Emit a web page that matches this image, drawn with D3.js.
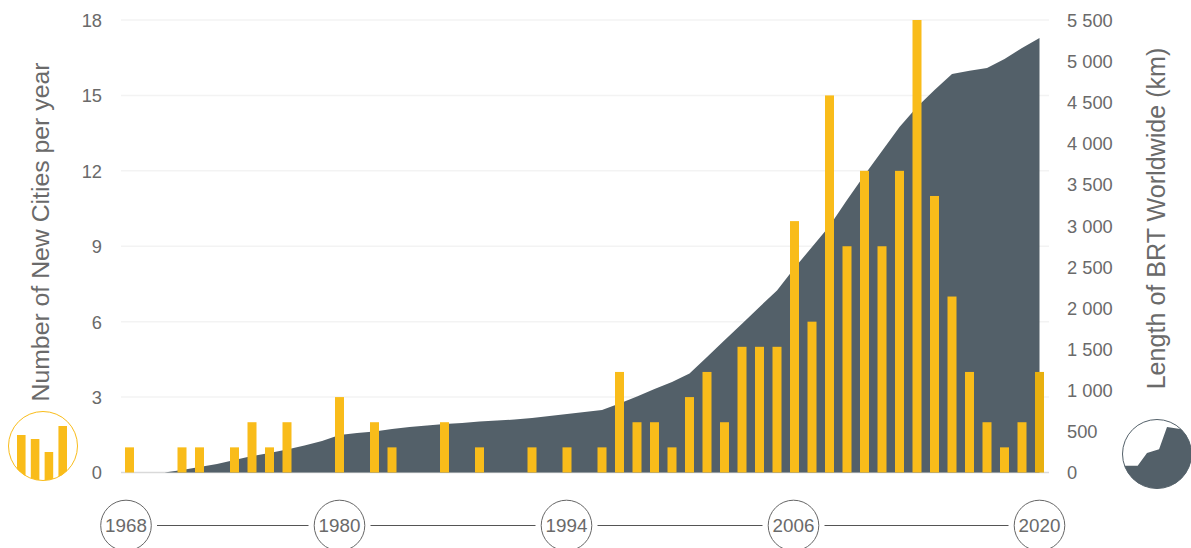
<!DOCTYPE html>
<html><head><meta charset="utf-8">
<script src="https://cdn.jsdelivr.net/npm/d3@7"></script>
<style>html,body{margin:0;padding:0;background:#fff}svg{display:block}
text{font-family:"Liberation Sans",sans-serif;fill:#6a6a6a}</style>
</head><body><div id="c"></div>
<script>
const years = d3.range(1968, 2021);
const newCities = [1,0,0,1,1,0,1,2,1,2,0,0,3,0,2,1,0,0,2,0,1,0,0,1,0,1,0,1,4,2,2,1,3,4,2,5,5,5,10,6,15,9,12,9,12,18,11,7,4,2,1,2,4];
const brtLength = [0,0,0,30,67,103,152,200,237,280,328,383,456,480,498,529,553,571,590,602,620,632,644,662,687,711,735,760,839,924,1015,1100,1203,1404,1607,1809,2012,2212,2486,2741,2996,3312,3616,3908,4200,4443,4649,4845,4882,4917,5026,5160,5281];
const leftTicks = [0,3,6,9,12,15,18];
const rightTicks = [0,500,1000,1500,2000,2500,3000,3500,4000,4500,5000,5500];
const timeline = [1968,1980,1994,2006,2020];
const timelinePos = [126,339.5,566.5,793.5,1039.5];
const leftTitle = "Number of New Cities per year";
const rightTitle = "Length of BRT Worldwide (km)";
const iconBars = [46,42,29,55];
const iconArea = [[0,0.67],[0.22,0.67],[0.355,0.485],[0.53,0.43],[0.645,0.11],[0.86,0.14],[1,0.25]];

const W=1191,H=548,plotTop=20,base=472.5;
const svg=d3.select("#c").append("svg").attr("width",W).attr("height",H);
const x=d3.scalePoint().domain(years).range([129.5,1039.5]);
const yL=d3.scaleLinear().domain([0,18]).range([base,plotTop]);
const yR=d3.scaleLinear().domain([0,5500]).range([base,plotTop]);
const barW=9;

svg.append("g").selectAll("line").data(leftTicks).join("line")
  .attr("x1",121).attr("x2",1049).attr("y1",d=>yL(d)).attr("y2",d=>yL(d))
  .attr("stroke",d=>d===0?"#d9d9d9":"#f3f3f3").attr("stroke-width",1.5);

const area=d3.area().x((d,i)=>x(years[i])).y0(base).y1(d=>yR(d));
svg.append("path").datum(brtLength).attr("d",area).attr("fill","#536069");

svg.append("g").selectAll("rect").data(newCities.map((v,i)=>({v,y:years[i]})).filter(d=>d.v>0)).join("rect")
  .attr("x",d=>x(d.y)-barW/2).attr("width",barW)
  .attr("y",d=>yL(d.v)).attr("height",d=>base-yL(d.v))
  .attr("fill",d=>d.y===2020?"#e8b00f":"#f9bc1a");

const axL=d3.axisLeft(yL).tickValues(leftTicks).tickSize(0).tickPadding(0);
const gL=svg.append("g").attr("transform","translate(102,0)").call(axL);
gL.select(".domain").remove();
gL.selectAll("text").attr("font-size",18.3).attr("dy","0.35em");

const fmt=d=>d>=1000?d3.format(",")(d).replace(","," "):String(d);
const axR=d3.axisRight(yR).tickValues(rightTicks).tickFormat(fmt).tickSize(0).tickPadding(0);
const gR=svg.append("g").attr("transform","translate(1067,0)").call(axR);
gR.select(".domain").remove();
gR.selectAll("text").attr("font-size",18.3).attr("dy","0.35em");

svg.append("text").attr("transform","translate(49,232) rotate(-90)").attr("text-anchor","middle").attr("font-size",24.8).text(leftTitle);
svg.append("text").attr("transform","translate(1165,218.5) rotate(-90)").attr("text-anchor","middle").attr("font-size",25.1).text(rightTitle);

const tl=svg.append("g");
const tlX=d3.scaleOrdinal().domain(timeline).range(timelinePos);
d3.pairs(timeline).forEach(([a,b])=>{
  tl.append("line").attr("x1",tlX(a)+31).attr("x2",tlX(b)-31).attr("y1",525.5).attr("y2",525.5).attr("stroke","#555").attr("stroke-width",1);
});
const tg=tl.selectAll("g").data(timeline).join("g").attr("transform",d=>`translate(${tlX(d)},525.5)`);
tg.append("circle").attr("r",25.3).attr("fill","#fff").attr("stroke","#666").attr("stroke-width",1);
tg.append("text").attr("text-anchor","middle").attr("dy","0.36em").attr("font-size",18.8).text(d=>d);

const ib=svg.append("g").attr("transform","translate(43,446)");
svg.append("clipPath").attr("id","ic").append("circle").attr("r",34.5);
const ibx=d3.scaleBand().domain(d3.range(iconBars.length)).range([-26,24]).paddingInner(0.38).paddingOuter(0);
const iby=d3.scaleLinear().domain([0,70]).range([35,-35]);
ib.append("g").attr("clip-path","url(#ic)").selectAll("rect").data(iconBars).join("rect")
  .attr("x",(d,i)=>ibx(i)).attr("width",ibx.bandwidth()).attr("y",d=>iby(d)).attr("height",d=>35-iby(d)).attr("fill","#f9bc1a");
ib.append("circle").attr("r",34.5).attr("fill","none").attr("stroke","#f9bc1a");

const ia=svg.append("g").attr("transform","translate(1157,454)");
svg.append("clipPath").attr("id","ia").append("circle").attr("r",34.5);
const iax=d3.scaleLinear().domain([0,1]).range([-34.5,34.5]);
const iay=d3.scaleLinear().domain([0,1]).range([-34.5,34.5]);
ia.append("path").attr("clip-path","url(#ia)").attr("fill","#536069")
  .datum(iconArea).attr("d",d3.area().x(d=>iax(d[0])).y0(35).y1(d=>iay(d[1])));
ia.append("circle").attr("r",34.5).attr("fill","none").attr("stroke","#536069");
</script></body></html>
